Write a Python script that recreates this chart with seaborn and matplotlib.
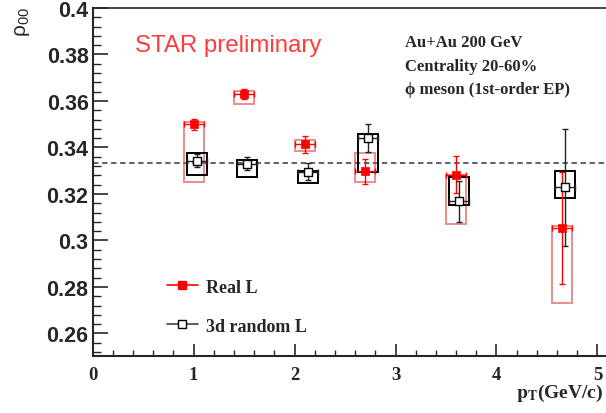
import numpy as np
import pandas as pd
import seaborn as sns
import matplotlib.pyplot as plt
from matplotlib.patches import Rectangle
from matplotlib.lines import Line2D
from matplotlib.ticker import MultipleLocator

# Real Lambda: rho_00 vs pT with statistical errors and systematic band edges
pt_real = [1.0, 1.5, 2.1, 2.7, 3.6, 4.65]
rho_real = [0.3500, 0.3630, 0.3413, 0.3297, 0.3283, 0.3053]
stat_real = [0.0024, 0.0022, 0.0036, 0.0055, 0.0080, 0.0240]
sys_low_real = [0.3250, 0.3585, 0.3384, 0.3250, 0.3071, 0.2733]
sys_high_real = [0.3510, 0.3641, 0.3430, 0.3377, 0.3283, 0.3063]

# 3d random Lambda
pt_rand = [1.03, 1.53, 2.13, 2.73, 3.63, 4.68]
rho_rand = [0.3343, 0.3330, 0.3295, 0.3441, 0.3168, 0.3228]
stat_rand = [0.0028, 0.0027, 0.0037, 0.0060, 0.0088, 0.0250]
sys_low_rand = [0.3282, 0.3273, 0.3247, 0.3295, 0.3152, 0.3182]
sys_high_rand = [0.3377, 0.3348, 0.3297, 0.3456, 0.3271, 0.3297]

pt_half_width = 0.1
rho_ref = 1.0 / 3.0

series_labels = ["Real L", "3d random L"]
info_lines = ["Au+Au 200 GeV", "Centrality 20-60%", "\u03d5 meson (1st-order EP)"]
x_ticks = [0, 1, 2, 3, 4, 5]
y_ticks = [0.26, 0.28, 0.30, 0.32, 0.34, 0.36, 0.38, 0.40]
y_tick_labels = ["0.26", "0.28", "0.3", "0.32", "0.34", "0.36", "0.38", "0.4"]

sns.set_style("ticks")
plt.rcParams["font.family"] = ["Liberation Sans", "DejaVu Sans"]
plt.rcParams["mathtext.fontset"] = "stix"

fig = plt.figure(figsize=(6.06, 4.14), dpi=100)
ax = fig.add_axes([0.153, 0.1377, 0.847, 0.8406])
ax.set_xlim(0, 5.085)
ax.set_ylim(0.2503, 0.4)

red = "#ff0000"
box_red = (0.88, 0.25, 0.25, 0.6)

# reference line at 1/3
ax.axhline(rho_ref, color="#555555", lw=1.3, ls=(0, (3, 2)), zorder=1)

# systematic boxes
for x, lo, hi in zip(pt_real, sys_low_real, sys_high_real):
    ax.add_patch(Rectangle((x - pt_half_width, lo), 2 * pt_half_width, hi - lo,
                           fill=False, edgecolor=box_red, lw=1.4, zorder=2))
for x, lo, hi in zip(pt_rand, sys_low_rand, sys_high_rand):
    ax.add_patch(Rectangle((x - pt_half_width, lo), 2 * pt_half_width, hi - lo,
                           fill=False, edgecolor="black", lw=1.4, zorder=3))

# statistical error bars
ax.errorbar(pt_real, rho_real, xerr=pt_half_width, yerr=stat_real, fmt="none",
            ecolor=red, elinewidth=1.0, capsize=2.5, capthick=1.0, zorder=4)
ax.errorbar(pt_rand, rho_rand, xerr=pt_half_width, yerr=stat_rand, fmt="none",
            ecolor="#222222", elinewidth=1.0, capsize=2.5, capthick=1.0, zorder=4)

# markers
sns.scatterplot(x=pt_real, y=rho_real, marker="s", s=38, color=red,
                edgecolor=red, linewidth=0.5, zorder=6, ax=ax, legend=False)
sns.scatterplot(x=pt_rand, y=rho_rand, marker="s", s=34, color="white",
                edgecolor="black", linewidth=1.0, zorder=6, ax=ax, legend=False)

# axes styling
ax.set_xticks(x_ticks)
ax.set_yticks(y_ticks)
ax.set_yticklabels(y_tick_labels)
ax.xaxis.set_minor_locator(MultipleLocator(0.2))
ax.yaxis.set_minor_locator(MultipleLocator(0.004))
ax.tick_params(axis="y", which="major", direction="in", length=11, width=1.2, pad=3)
ax.tick_params(axis="y", which="minor", direction="in", length=6, width=1.0)
ax.tick_params(axis="x", which="major", direction="in", length=9, width=1.2, pad=7)
ax.tick_params(axis="x", which="minor", direction="in", length=4.5, width=1.0)
for lab in ax.get_yticklabels():
    lab.set_fontfamily(["Liberation Sans", "DejaVu Sans"])
    lab.set_fontweight("bold")
    lab.set_fontsize(15.5)
for lab in ax.get_xticklabels():
    lab.set_fontfamily(["Liberation Serif", "DejaVu Serif"])
    lab.set_fontweight("bold")
    lab.set_fontsize(13.5)
ax.spines["left"].set_linewidth(1.5)
ax.spines["bottom"].set_linewidth(1.5)
ax.spines["top"].set_linewidth(1.2)
ax.spines["right"].set_visible(False)
ax.set_xlabel("")
ax.set_ylabel("")

# legend
handles = [
    Line2D([], [], color=red, lw=1.2, marker="s", markersize=6,
           markerfacecolor=red, markeredgecolor=red),
    Line2D([], [], color="#444444", lw=1.2, marker="s", markersize=6,
           markerfacecolor="white", markeredgecolor="black"),
]
ax.legend(handles, series_labels, loc="center left",
          bbox_to_anchor=(0.1447, 0.142), frameon=False,
          borderpad=0, borderaxespad=0, handlelength=1.7, handletextpad=0.45,
          labelspacing=1.22,
          prop={"family": ["Liberation Serif", "DejaVu Serif"], "weight": "bold", "size": 13})

# annotations
ax.text(0.0824, 0.877, "STAR preliminary", transform=ax.transAxes,
        color="#ff3b3b", fontsize=17.3, va="baseline", ha="left",
        fontfamily=["Liberation Sans", "DejaVu Sans"])
for txt, yb in zip(info_lines, [0.8865, 0.828, 0.773]):
    fig.text(0.668, yb, txt, fontsize=12, fontweight="bold", va="baseline",
             ha="left", fontfamily=["Liberation Serif", "DejaVu Serif"])

fig.text(22 / 606, 1 - 7 / 414, r"$\mathregular{\rho_{00}}$", rotation=90,
         ha="center", va="top", fontsize=15,
         fontfamily=["Liberation Sans", "DejaVu Sans"])
fig.text(603 / 606, 1 - 398 / 414, r"$\mathbf{p_{T}}$(GeV/c)", ha="right",
         va="baseline", fontsize=14, fontweight="bold",
         fontfamily=["Liberation Serif", "DejaVu Serif"])

fig.savefig("out.png", dpi=100)
